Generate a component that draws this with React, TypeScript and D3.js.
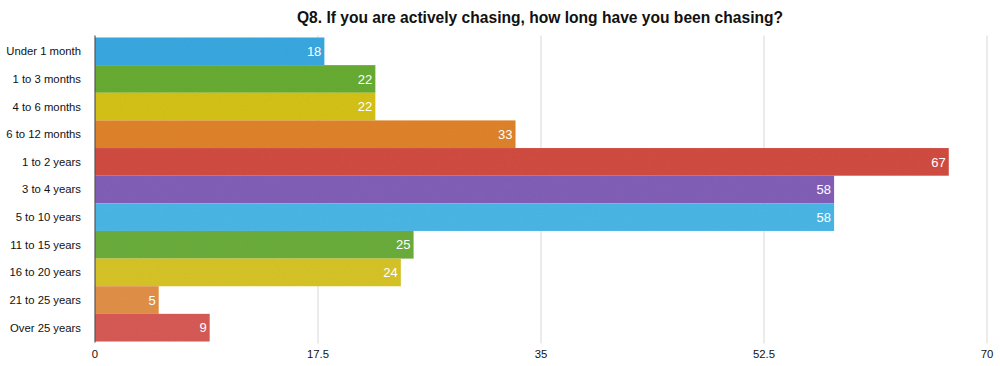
import React, { useRef, useEffect } from "react";
import * as d3 from "d3";

const categories = [
  "Under 1 month",
  "1 to 3 months",
  "4 to 6 months",
  "6 to 12 months",
  "1 to 2 years",
  "3 to 4 years",
  "5 to 10 years",
  "11 to 15 years",
  "16 to 20 years",
  "21 to 25 years",
  "Over 25 years",
];
const values = [18, 22, 22, 33, 67, 58, 58, 25, 24, 5, 9];
const colors = [
  "#3aa9e0",
  "#69ad35",
  "#d5c31f",
  "#e0842f",
  "#d24e42",
  "#8361b8",
  "#4bb7e6",
  "#6cae3d",
  "#d7c52b",
  "#e39149",
  "#d85b56",
];
const xTicks = [0, 17.5, 35, 52.5, 70];
const title = "Q8. If you are actively chasing, how long have you been chasing?";

export default function App() {
  const ref = useRef<SVGSVGElement | null>(null);

  useEffect(() => {
    document.body.style.margin = "0";
    const width = 1000;
    const height = 366;
    const margin = { top: 37.5, right: 13, bottom: 24.5, left: 95 };
    const font = "'Liberation Sans', Arial, Helvetica, sans-serif";

    const svg = d3.select(ref.current);
    svg.selectAll("*").remove();
    svg.attr("width", width).attr("height", height).style("display", "block");

    // subtle paper-like noise on bars
    const defs = svg.append("defs");
    const filter = defs.append("filter").attr("id", "grain").attr("x", 0).attr("y", 0).attr("width", 1).attr("height", 1);
    filter.append("feTurbulence").attr("type", "fractalNoise").attr("baseFrequency", 0.9).attr("numOctaves", 2).attr("seed", 3).attr("result", "noise");
    filter.append("feColorMatrix").attr("in", "noise").attr("type", "matrix")
      .attr("values", "0 0 0 0 0  0 0 0 0 0  0 0 0 0 0  0 0 0 0.09 0").attr("result", "dark");
    filter.append("feComposite").attr("in", "dark").attr("in2", "SourceGraphic").attr("operator", "in").attr("result", "darkIn");
    filter.append("feMerge").call((m) => {
      m.append("feMergeNode").attr("in", "SourceGraphic");
      m.append("feMergeNode").attr("in", "darkIn");
    });

    const x = d3.scaleLinear().domain([0, 70]).range([margin.left, width - margin.right]);
    const y = d3.scaleBand().domain(categories).range([margin.top, height - margin.bottom]).padding(0);

    svg.append("text")
      .attr("x", 540)
      .attr("y", 23)
      .attr("text-anchor", "middle")
      .attr("font-family", font)
      .attr("font-weight", "bold")
      .attr("font-size", 15.6)
      .attr("fill", "#111")
      .text(title);

    // gridlines
    svg.append("g")
      .selectAll("line")
      .data(xTicks.slice(1))
      .join("line")
      .attr("x1", (d) => x(d))
      .attr("x2", (d) => x(d))
      .attr("y1", margin.top - 2)
      .attr("y2", height - margin.bottom + 2)
      .attr("stroke", "#d8d8d8")
      .attr("stroke-width", 1);

    const bars = svg.append("g");
    bars.selectAll("rect")
      .data(values)
      .join("rect")
      .attr("x", x(0))
      .attr("y", (_, i) => y(categories[i])!)
      .attr("width", (d) => x(d) - x(0))
      .attr("height", y.bandwidth())
      .attr("fill", (_, i) => colors[i])
      .attr("filter", "url(#grain)");

    bars.selectAll("text")
      .data(values)
      .join("text")
      .attr("x", (d) => x(d) - 3)
      .attr("y", (_, i) => y(categories[i])! + y.bandwidth() / 2)
      .attr("dy", "0.36em")
      .attr("text-anchor", "end")
      .attr("font-family", font)
      .attr("font-size", 13)
      .attr("fill", "#fff")
      .text((d) => d);

    // y labels
    svg.append("g")
      .selectAll("text")
      .data(categories)
      .join("text")
      .attr("x", margin.left - 14)
      .attr("y", (d) => y(d)! + y.bandwidth() / 2)
      .attr("dy", "0.35em")
      .attr("text-anchor", "end")
      .attr("font-family", font)
      .attr("font-size", 11.3)
      .attr("fill", "#111")
      .text((d) => d);

    // axis line
    svg.append("line")
      .attr("x1", x(0))
      .attr("x2", x(0))
      .attr("y1", margin.top - 2)
      .attr("y2", height - margin.bottom + 1)
      .attr("stroke", "#555")
      .attr("stroke-width", 1.2);

    // x tick labels
    svg.append("g")
      .selectAll("text")
      .data(xTicks)
      .join("text")
      .attr("x", (d) => x(d))
      .attr("y", 358)
      .attr("text-anchor", "middle")
      .attr("font-family", font)
      .attr("font-size", 11.3)
      .attr("fill", "#111")
      .text((d) => d);
  }, []);

  return <svg ref={ref}></svg>;
}
